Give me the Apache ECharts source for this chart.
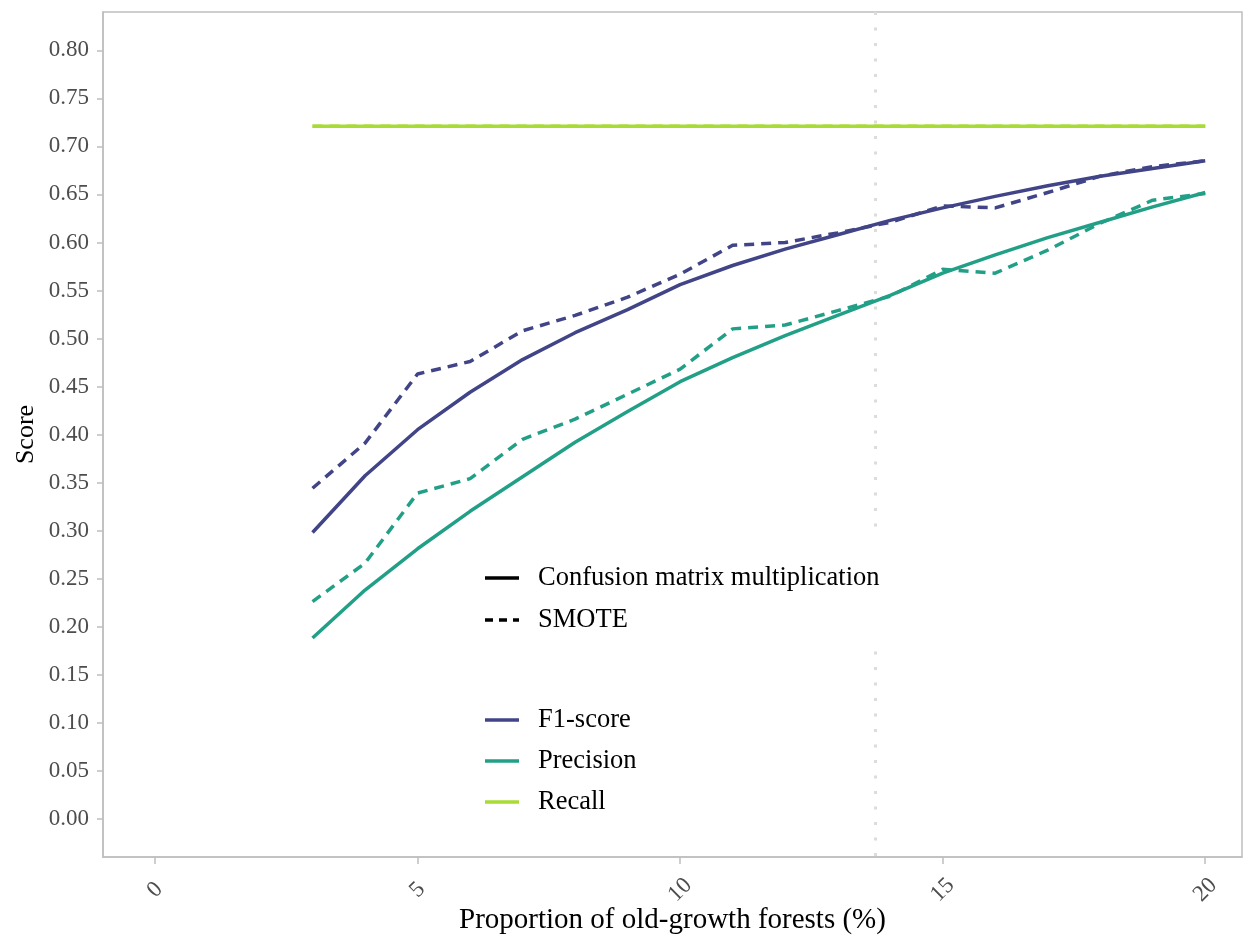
<!DOCTYPE html>
<html>
<head>
<meta charset="utf-8">
<script src="https://cdn.jsdelivr.net/npm/echarts@6/dist/echarts.min.js"></script>
<style>
  html, body { margin: 0; padding: 0; background: #fff; }
  #chart { width: 1246px; height: 937px; }
</style>
</head>
<body>
<div id="chart"></div>
<script>
// proportion of old-growth forests (%)
const proportions = [3, 4, 5, 6, 7, 8, 9, 10, 11, 12, 13, 14, 15, 16, 17, 18, 19, 20]

// confusion matrix multiplication (solid)
const f1Cmm        = [0.298, 0.357, 0.405, 0.444, 0.478, 0.506, 0.530, 0.556, 0.576, 0.593, 0.608, 0.623, 0.636, 0.648, 0.659, 0.669, 0.677, 0.685]
const precisionCmm = [0.188, 0.238, 0.281, 0.320, 0.356, 0.392, 0.424, 0.455, 0.480, 0.503, 0.524, 0.545, 0.568, 0.587, 0.605, 0.621, 0.637, 0.652]
const recallCmm    = [0.721, 0.721, 0.721, 0.721, 0.721, 0.721, 0.721, 0.721, 0.721, 0.721, 0.721, 0.721, 0.721, 0.721, 0.721, 0.721, 0.721, 0.721]

// SMOTE (dashed)
const f1Smote        = [0.344, 0.391, 0.463, 0.476, 0.508, 0.524, 0.543, 0.567, 0.597, 0.600, 0.610, 0.621, 0.638, 0.636, 0.652, 0.669, 0.679, 0.685]
const precisionSmote = [0.226, 0.266, 0.339, 0.354, 0.395, 0.416, 0.442, 0.468, 0.510, 0.514, 0.529, 0.544, 0.572, 0.568, 0.592, 0.620, 0.644, 0.651]
const recallSmote    = [0.721, 0.721, 0.721, 0.721, 0.721, 0.721, 0.721, 0.721, 0.721, 0.721, 0.721, 0.721, 0.721, 0.721, 0.721, 0.721, 0.721, 0.721]

const xTicks = [0, 5, 10, 15, 20]
const yTicks = [0, 0.05, 0.1, 0.15, 0.2, 0.25, 0.3, 0.35, 0.4, 0.45, 0.5, 0.55, 0.6, 0.65, 0.7, 0.75, 0.8]
const cutoff = 13.71

const COLORS = { f1: '#414487', precision: '#22A087', recall: '#A8DB34' }
const FONT = 'Liberation Serif'
const GREY = '#BEBEBE'

const pair = (ys) => proportions.map((x, i) => [x, ys[i]])

const lineSeries = (name, ys, color, dashed) => ({
    name,
    type: 'line',
    data: pair(ys),
    showSymbol: false,
    symbol: 'none',
    silent: true,
    z: dashed ? 3 : 2,
    lineStyle: { color, width: 3.5, type: dashed ? [10, 7] : 'solid', cap: 'butt' }
})

const chart = echarts.init(document.getElementById('chart'))

// legends drawn as plain graphics
const legendItem = (y, color, dashed, text) => ([
    {
        type: 'line',
        shape: { x1: 485, y1: y, x2: 519, y2: y },
        style: { stroke: color, lineWidth: 3.5, lineDash: dashed ? [8, 6] : null }
    },
    {
        type: 'text',
        x: 538, y: y,
        style: { text, font: '26.5px "Liberation Serif"', fill: '#000', verticalAlign: 'middle' }
    }
])

chart.setOption({
    animation: false,
    backgroundColor: '#fff',
    grid: {
        left: 103, right: 4, top: 12, bottom: 80,
        outerBoundsMode: 'none',
        containLabel: false,
        show: true, borderColor: GREY, borderWidth: 1.5
    },
    xAxis: {
        type: 'value',
        min: -0.99,
        max: 20.7,
        name: 'Proportion of old-growth forests (%)',
        nameLocation: 'middle',
        nameGap: 49,
        nameMoveOverlap: false,
        nameTextStyle: { fontFamily: FONT, fontSize: 29, color: '#000' },
        axisLine: { show: true, onZero: false, lineStyle: { color: GREY, width: 1.5 } },
        axisTick: { show: true, customValues: xTicks, length: 7, lineStyle: { color: GREY, width: 1.5 } },
        axisLabel: {
            customValues: xTicks,
            rotate: 45,
            align: 'center',
            verticalAlign: 'middle',
            margin: 33,
            fontFamily: FONT, fontSize: 23, color: '#4D4D4D'
        },
        splitLine: { show: false }
    },
    yAxis: {
        type: 'value',
        min: -0.04,
        max: 0.84,
        name: 'Score',
        nameLocation: 'middle',
        nameGap: 64,
        nameMoveOverlap: false,
        nameTextStyle: { fontFamily: FONT, fontSize: 26, color: '#000' },
        axisLine: { show: true, onZero: false, lineStyle: { color: GREY, width: 1.5 } },
        axisTick: { show: true, customValues: yTicks, length: 6, lineStyle: { color: GREY, width: 1.5 } },
        axisLabel: {
            customValues: yTicks,
            margin: 14,
            formatter: (v) => v.toFixed(2),
            fontFamily: FONT, fontSize: 23, color: '#4D4D4D'
        },
        splitLine: { show: false }
    },
    series: [
        {
            // dotted reference line at the cut-off proportion
            type: 'line',
            data: [],
            silent: true,
            markLine: {
                silent: true,
                symbol: 'none',
                label: { show: false },
                lineStyle: { color: '#DCDCDC', width: 3, type: [3, 12.5] },
                data: [
                    [{ coord: [cutoff, 0.84] }, { coord: [cutoff, 0.30] }],
                    [{ coord: [cutoff, 0.174] }, { coord: [cutoff, -0.04] }]
                ]
            }
        },
        lineSeries('Recall', recallCmm, COLORS.recall, false),
        lineSeries('Recall SMOTE', recallSmote, COLORS.recall, true),
        lineSeries('F1-score', f1Cmm, COLORS.f1, false),
        lineSeries('F1-score SMOTE', f1Smote, COLORS.f1, true),
        lineSeries('Precision', precisionCmm, COLORS.precision, false),
        lineSeries('Precision SMOTE', precisionSmote, COLORS.precision, true)
    ],
    graphic: [
        ...legendItem(578, '#000', false, 'Confusion matrix multiplication'),
        ...legendItem(620, '#000', true, 'SMOTE'),
        ...legendItem(720, COLORS.f1, false, 'F1-score'),
        ...legendItem(761, COLORS.precision, false, 'Precision'),
        ...legendItem(802, COLORS.recall, false, 'Recall')
    ]
})
</script>
</body>
</html>
